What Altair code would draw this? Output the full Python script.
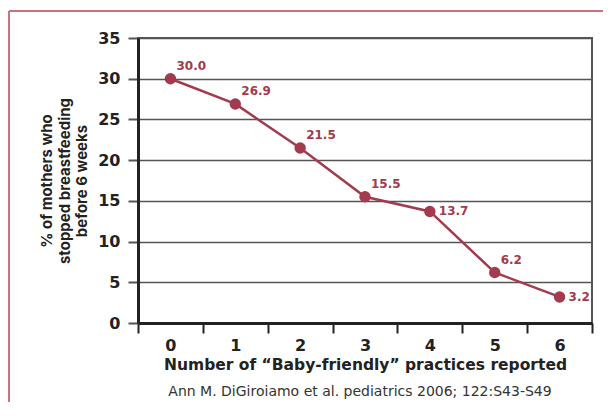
import altair as alt
import pandas as pd

practices = ["0", "1", "2", "3", "4", "5", "6"]
pct_stopped = [30.0, 26.9, 21.5, 15.5, 13.7, 6.2, 3.2]
labels = ["30.0", "26.9", "21.5", "15.5", "13.7", "6.2", "3.2"]
side_labels = ["4", "6"]  # labels drawn beside the point rather than above
caption = ["Ann M. DiGiroiamo et al. pediatrics 2006; 122:S43-S49"]

df = pd.DataFrame({"n": practices, "pct": pct_stopped, "lab": labels})

RED = "#a33a4e"
FONT = "DejaVu Sans"
FONT2 = "Inter"
W, H = 454, 285

x = alt.X("n:O", scale=alt.Scale(type="band", paddingInner=0, paddingOuter=0),
          sort=practices,
          axis=alt.Axis(title="Number of \u201cBaby-friendly\u201d practices reported",
                        labelAngle=0, tickBand="extent", domainColor="#222",
                        domainWidth=3, tickColor="#222", tickWidth=2, tickSize=10,
                        labelFont=FONT, labelFontSize=16, labelFontWeight="bold",
                        labelColor="#222", labelPadding=4, titleFont=FONT,
                        titleFontSize=15.5, titleFontWeight="bold",
                        titleColor="#222", titlePadding=4, grid=False))
y = alt.Y("pct:Q", scale=alt.Scale(domain=[0, 35], nice=False),
          axis=alt.Axis(title=["% of mothers who", "stopped breastfeeding", "before 6 weeks"],
                        values=[0, 5, 10, 15, 20, 25, 30, 35], domainColor="#222",
                        domainWidth=3, tickColor="#555", tickWidth=2, tickSize=10,
                        gridColor="#555", gridWidth=1.5, labelFont=FONT, labelFontSize=16,
                        labelFontWeight="bold", labelColor="#222", labelPadding=8,
                        titleFont=FONT2, titleFontSize=15, titleFontWeight="bold",
                        titleColor="#222", titleLineHeight=17.5, titlePadding=8))

base = alt.Chart(df)
line = base.mark_line(color=RED, strokeWidth=2.5).encode(x=x, y=y)
pts = base.mark_circle(color=RED, size=130, opacity=1).encode(x=x, y=y)
lab_up = base.transform_filter(
    ~alt.FieldOneOfPredicate(field="n", oneOf=side_labels)
).mark_text(color=RED, fontSize=12, fontWeight="bold", font=FONT, align="left",
            dx=6, dy=-13).encode(x=x, y=y, text="lab:N")
lab_side = base.transform_filter(
    alt.FieldOneOfPredicate(field="n", oneOf=side_labels)
).mark_text(color=RED, fontSize=12, fontWeight="bold", font=FONT, align="left",
            dx=9, dy=0).encode(x=x, y=y, text="lab:N")

cap = alt.Chart(pd.DataFrame({"t": caption})).mark_text(
    fontSize=14, font=FONT, color="#333", align="center", baseline="middle"
).encode(x=alt.value(W / 2 - 5), y=alt.value(H + 69), text="t:N")

border_df = pd.DataFrame({"k": [0]})
border_left = alt.Chart(border_df).mark_rule(color="#c8737d", strokeWidth=2, clip=False).encode(
    x=alt.value(-129), y=alt.value(-27), y2=alt.value(H + 200))
border_top = alt.Chart(border_df).mark_rule(color="#c8737d", strokeWidth=2, clip=False).encode(
    x=alt.value(-129), x2=alt.value(W + 200), y=alt.value(-27))

chart = alt.layer(border_left, border_top, line, pts, lab_up, lab_side, cap).properties(
    width=W, height=H,
    autosize=alt.AutoSizeParams(type="none"),
    padding={"left": 130, "top": 30, "right": 11, "bottom": 79},
).configure(font=FONT).configure_view(stroke="#555", strokeWidth=2)

chart.save("out.html", embed_options={"renderer": "svg", "actions": False})
